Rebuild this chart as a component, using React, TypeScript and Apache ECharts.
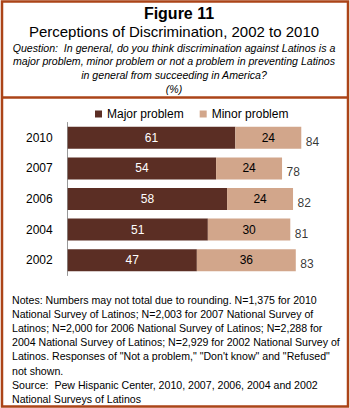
import React, { useEffect, useRef } from "react";
import * as echarts from "echarts";

const years = ["2010", "2007", "2006", "2004", "2002"];
const major = [61, 54, 58, 51, 47];
const minor = [24, 24, 24, 30, 36];
const totals = [84, 78, 82, 81, 83];
const seriesNames = ["Major problem", "Minor problem"];

const titleMain = "Figure 11";
const titleSub = "Perceptions of Discrimination, 2002 to 2010";
const questionLines = [
  "Question:  In general, do you think discrimination against Latinos is a",
  "major problem, minor problem or not a problem in preventing Latinos",
  "in general from succeeding in America?",
  "(%)",
];
const noteLines = [
  "Notes: Numbers may not total due to rounding. N=1,375 for 2010",
  "National Survey of Latinos; N=2,003 for 2007 National Survey of",
  "Latinos; N=2,000 for 2006 National Survey of Latinos; N=2,288 for",
  "2004 National Survey of Latinos; N=2,929 for 2002 National Survey of",
  "Latinos. Responses of \"Not a problem,\" \"Don't know\" and \"Refused\"",
  "not shown.",
  "Source:  Pew Hispanic Center, 2010, 2007, 2006, 2004 and 2002",
  "National Surveys of Latinos",
];

const FONT = "Liberation Sans, Arial, sans-serif";
const MAJOR_COLOR = "#5b2e24";
const MINOR_COLOR = "#d2a68b";
const BORDER_COLOR = "#ab4418";

export default function App() {
  const ref = useRef<HTMLDivElement>(null);
  useEffect(() => {
    document.body.style.margin = "0";
    const chart = echarts.init(ref.current!, null, { renderer: "svg" });
    const graphics: any[] = [
      {
        type: "rect",
        shape: { x: 2, y: 1.5, width: 346, height: 405 },
        style: { fill: "none", stroke: BORDER_COLOR, lineWidth: 2.5 },
      },
      {
        type: "line",
        shape: { x1: 1, y1: 97.5, x2: 349, y2: 97.5 },
        style: { stroke: BORDER_COLOR, lineWidth: 2.5 },
      },
      {
        type: "text",
        x: 179,
        y: 13,
        style: {
          text: titleMain,
          font: `bold 16px ${FONT}`,
          fill: "#000",
          textAlign: "center",
          textVerticalAlign: "middle",
        },
      },
      {
        type: "text",
        x: 174,
        y: 31.5,
        style: {
          text: titleSub,
          font: `15px ${FONT}`,
          fill: "#000",
          textAlign: "center",
          textVerticalAlign: "middle",
        },
      },
      ...questionLines.map((t, i) => ({
        type: "text",
        x: 174,
        y: 47.5 + i * 13.9,
        style: {
          text: t,
          font: `italic 10.6px ${FONT}`,
          fill: "#000",
          textAlign: "center",
          textVerticalAlign: "middle",
        },
      })),
      ...noteLines.map((t, i) => ({
        type: "text",
        x: 12,
        y: 299.5 + i * 14.2,
        style: {
          text: t,
          font: `10.6px ${FONT}`,
          fill: "#000",
          textAlign: "left",
          textVerticalAlign: "middle",
        },
      })),
    ];

    chart.setOption({
      animation: false,
      textStyle: { fontFamily: FONT },
      legend: {
        data: seriesNames,
        left: 90,
        top: 103,
        itemWidth: 7,
        itemHeight: 7,
        itemGap: 16,
        icon: "rect",
        textStyle: { fontSize: 12, color: "#000", fontFamily: FONT },
      },
      grid: { left: 67.7, right: 7.5, top: 122.5, bottom: 408 - 275.5 },
      xAxis: {
        type: "value",
        min: 0,
        max: 100,
        show: false,
      },
      yAxis: {
        type: "category",
        data: years,
        inverse: true,
        axisLine: { show: true, lineStyle: { color: "#999", width: 1 } },
        axisTick: { show: false },
        axisLabel: { fontSize: 12, color: "#000", margin: 15, fontFamily: FONT },
      },
      series: [
        {
          name: seriesNames[0],
          type: "bar",
          stack: "t",
          barWidth: 22,
          data: major,
          itemStyle: { color: MAJOR_COLOR },
          label: {
            show: true,
            position: "inside",
            color: "#fff",
            fontSize: 12,
            fontFamily: FONT,
          },
        },
        {
          name: seriesNames[1],
          type: "bar",
          stack: "t",
          barWidth: 22,
          data: minor,
          itemStyle: { color: MINOR_COLOR },
          label: {
            show: true,
            position: "inside",
            color: "#000",
            fontSize: 12,
            fontFamily: FONT,
          },
        },
        {
          name: "Total",
          type: "scatter",
          symbolSize: 1,
          itemStyle: { color: "rgba(0,0,0,0)" },
          data: years.map((y, i) => [major[i] + minor[i], y]),
          label: {
            show: true,
            position: "right",
            distance: 4,
            offset: [0, 4],
            color: "#000",
            fontSize: 12,
            fontFamily: FONT,
            formatter: (p: any) => String(totals[p.dataIndex]),
          },
        },
      ],
      graphic: graphics,
    });
    return () => chart.dispose();
  }, []);
  return <div ref={ref} style={{ width: 350, height: 408 }} />;
}
